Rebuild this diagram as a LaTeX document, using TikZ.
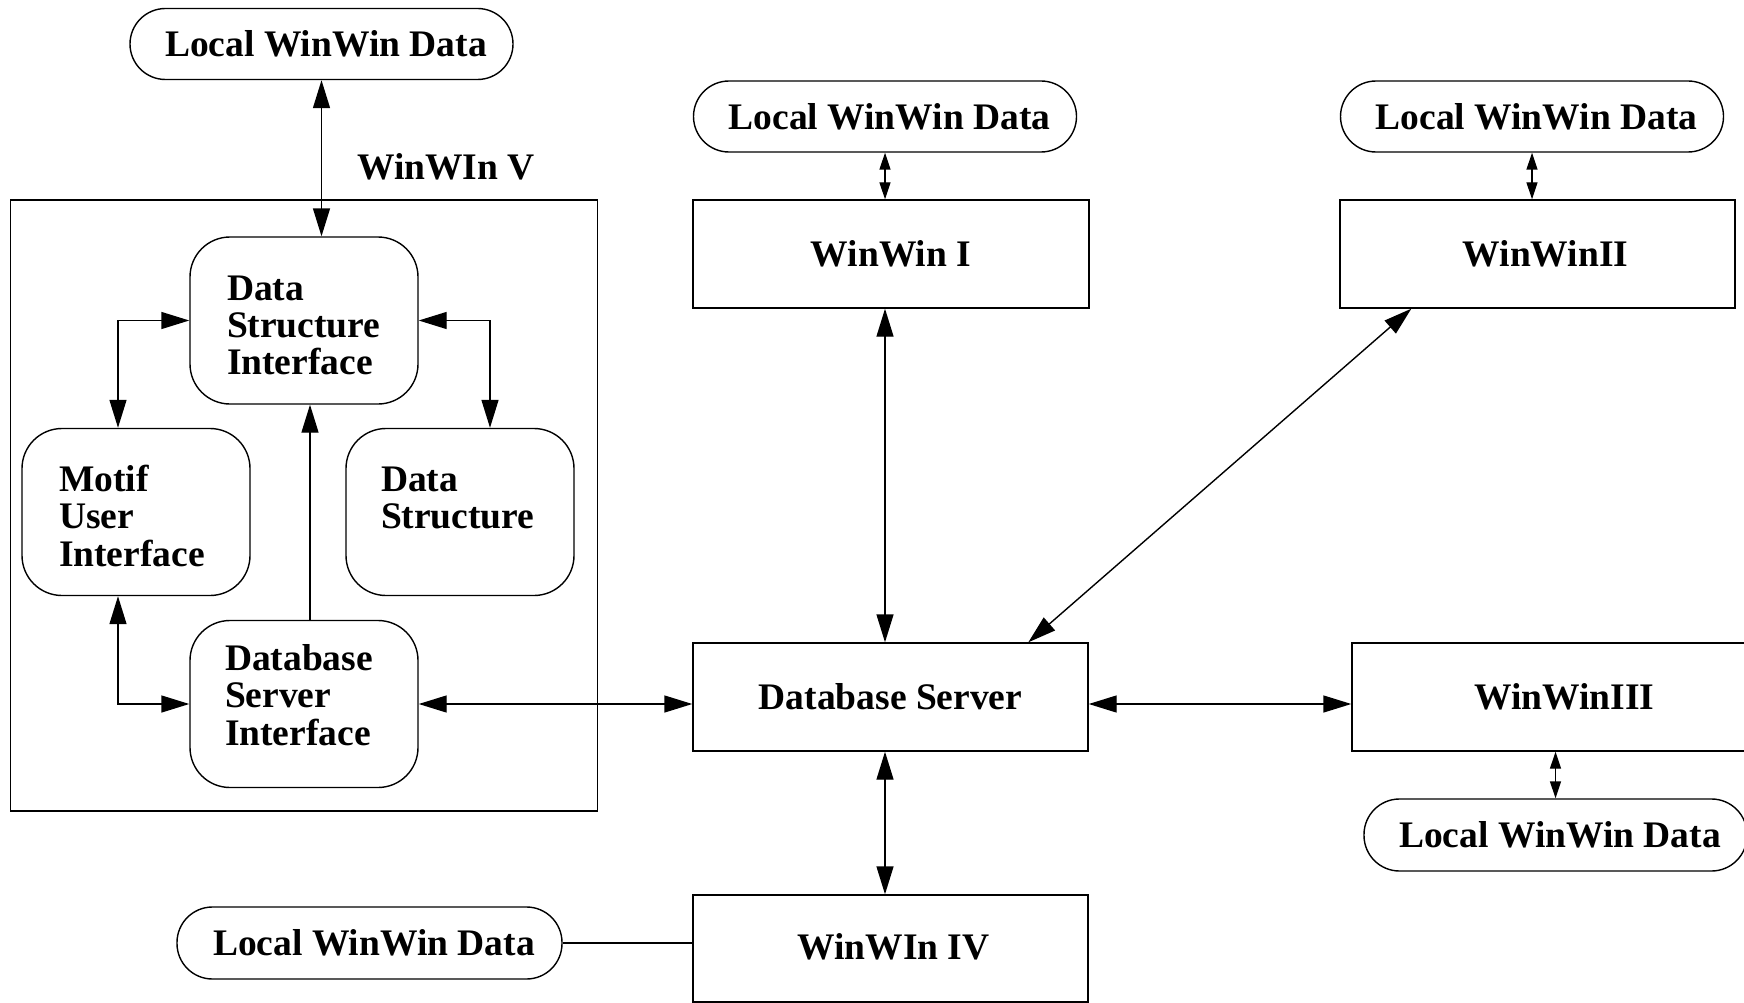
\documentclass[tikz,border=0pt]{standalone}
\usepackage{fontspec}
\setmainfont{Liberation Serif}
\usetikzlibrary{arrows.meta,calc}
\newcommand\mlines[1]{\begin{tabular}[t]{@{}l@{}}#1\end{tabular}}
\begin{document}
\begin{tikzpicture}[x=1pt,y=-1pt,line width=1.4pt,
  txt/.style={font=\bfseries\fontsize{37.5}{37}\selectfont,inner sep=0pt},
  pill/.style={draw,txt,rounded corners=35.5pt,minimum width=383pt,minimum height=71pt,execute at begin node={\hspace*{9pt}}},
  rbox/.style={draw,rounded corners=40pt,minimum width=228pt,minimum height=167pt,inner sep=0pt},
  rect/.style={draw,txt,minimum width=395pt,minimum height=108pt},
  big/.style={{Triangle[length=28pt,width=17pt]}-{Triangle[length=28pt,width=17pt]}},
  bigto/.style={-{Triangle[length=28pt,width=17pt]}},
  small/.style={{Triangle[length=17pt,width=11pt]}-{Triangle[length=17pt,width=11pt]}}]
\useasboundingbox (0,0) rectangle (1744,1003);
\clip (0,0) rectangle (1744,1003);
% WinWIn V group
\node[draw,minimum width=587pt,minimum height=611pt,inner sep=0pt] (winV) at (304,505.5) {};
\node[txt,anchor=base] (winVt) at (446,180) {WinWIn V};
\node[pill] (lwdV) at (321.5,44) {Local WinWin Data};
\node[rbox] (dsi) at (304,320.5) {};
\node[rbox] (motif) at (136,512) {};
\node[rbox] (ds) at (460,512) {};
\node[rbox] (dbsi) at (304,704) {};
\node[txt,anchor=base west] (dsit) at ($(dsi.north west)+(37,64)$) {\mlines{Data\\Structure\\Interface}};
\node[txt,anchor=base west] (motift) at ($(motif.north west)+(37,64)$) {\mlines{Motif\\User\\Interface}};
\node[txt,anchor=base west] (dst) at ($(ds.north west)+(35,64)$) {\mlines{Data\\Structure}};
\node[txt,anchor=base west] (dbsit) at ($(dbsi.north west)+(35,51)$) {\mlines{Database\\Server\\Interface}};
% right side
\node[pill] (lwd1) at (885,116.5) {Local WinWin Data};
\node[rect,minimum width=396pt] (w1) at (891,254) {WinWin I};
\node[pill] (lwd2) at (1532,116.5) {Local WinWin Data};
\node[rect] (w2) at (1537.5,254) {};
\node[txt] (w2t) at ($(w2)+(8,0)$) {WinWinII};
\node[rect] (dbs) at (890.5,697) {Database Server};
\node[rect] (w3) at (1549.5,697) {};
\node[txt] (w3t) at ($(w3)+(15,0)$) {WinWinIII};
\node[pill,minimum height=72pt] (lwd3) at (1555.5,835) {Local WinWin Data};
\node[rect,minimum height=107pt] (w4) at (890.5,948.5) {};
\node[txt] (w4t) at ($(w4)+(3,-2)$) {WinWIn IV};
\node[pill,minimum width=385pt,minimum height=72pt] (lwd4) at (369.5,943) {Local WinWin Data};
% connectors in WinWIn V
\draw[big] (lwdV.south) -- (lwdV.south |- dsi.north);
\draw[big] ($(motif.north)+(-18,0)$) |- (dsi.west);
\draw[big] (dsi.east) -| ($(ds.north)+(30,0)$);
\draw[bigto] ($(dbsi.north)+(6,0)$) -- ($(dsi.south)+(6,0)$);
\draw[big] ($(motif.south)+(-18,0)$) |- (dbsi.west);
\draw[big] (dbsi.east) -- (dbsi.east -| dbs.west);
% right side connectors
\draw[small] (lwd1.south) -- (lwd1.south |- w1.north);
\draw[big] (w1.south -| lwd1) -- (dbs.north -| lwd1);
\draw[small] (lwd2.south) -- (lwd2.south |- w2.north);
\draw[big] ($(w2.south west)+(72,0)$) -- ($(dbs.north west)+(336,0)$);
\draw[big] (dbsi.east -| dbs.east) -- (dbsi.east -| w3.west);
\draw[small] (lwd3.north |- w3.south) -- (lwd3.north);
\draw[big] (dbs.south -| lwd1) -- (w4.north -| lwd1);
\draw (lwd4.east) -- (lwd4.east -| w4.west);
\end{tikzpicture}
\end{document}
